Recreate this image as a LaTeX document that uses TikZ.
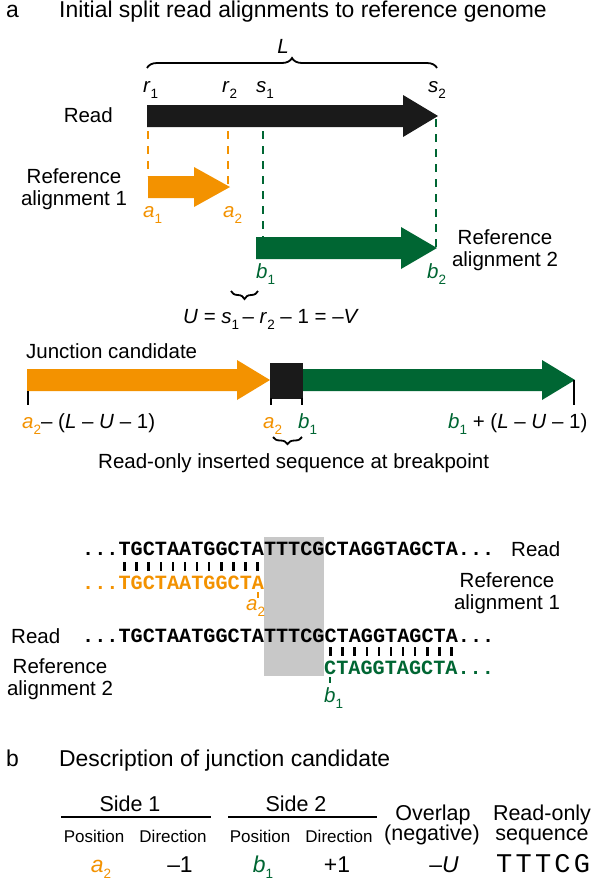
\documentclass[tikz,border=0pt]{standalone}
\usepackage{fontspec}
\setmainfont{Liberation Sans}
\newfontfamily\seqfont{Liberation Mono}
\newfontfamily\seqlight[LetterSpace=12]{Liberation Mono}
\usetikzlibrary{decorations.pathreplacing}
\definecolor{orng}{HTML}{F39200}
\definecolor{grn}{HTML}{006633}
\definecolor{blk}{HTML}{1A1A1A}
\definecolor{boxgray}{HTML}{C8C8C8}
\newcommand\Tfont{\fontsize{22.9}{24}\selectfont}
\newcommand\Lfont{\fontsize{20.5}{22}\selectfont}
\newcommand\Hfont{\fontsize{21.5}{20}\selectfont}
\newcommand\Sfont{\fontsize{17}{19}\selectfont}
\newcommand\Qfont{\seqfont\bfseries\fontsize{20.2}{22}\selectfont}
\newcommand\subsc[1]{\raisebox{-6pt}{\fontsize{13.5}{14}\selectfont #1}}
\newcommand\mvar[2]{\textit{#1}\subsc{#2}}
\tikzset{
  txt/.style={inner sep=0pt, anchor=base west},
  ctxt/.style={inner sep=0pt, anchor=base},
  two/.style={inner sep=0pt, anchor=base, align=center, font=\Lfont},
  dashline/.style={line width=2.2pt, dash pattern=on 8pt off 7pt},
  tickline/.style={line width=2pt},
  mtick/.style={line width=2.4pt},
  brc/.style={line width=1.8pt, decorate, decoration={brace, amplitude=#1}},
  mbrc/.style={line width=1.8pt, decorate, decoration={brace, mirror, amplitude=#1}},
}
\begin{document}
\begin{tikzpicture}[x=1pt,y=-1pt]
\fill[white] (0,0) rectangle (600,889);
\useasboundingbox (0,0) rectangle (600,889);

% ---------- panel a title
\node[txt, font=\Tfont] (pa) at (6,17.5) {a};
\node[txt, font=\Tfont] (titlea) at (59,17.5) {Initial split read alignments to reference genome};

% ---------- L brace
\coordinate (Lleft) at (147,68);
\coordinate (Lright) at (437,68);
\draw[brc=10pt] (Lleft) -- (Lright);
\node[ctxt, font=\Lfont] (Llab) at (283,53) {\textit{L}};

% ---------- position labels
\node[txt, font=\Lfont] (r1) at (143,92) {\mvar{r}{1}};
\node[txt, font=\Lfont] (r2) at (222,92) {\mvar{r}{2}};
\node[txt, font=\Lfont] (s1) at (256,92) {\mvar{s}{1}};
\node[txt, font=\Lfont] (s2) at (428,92) {\mvar{s}{2}};

% ---------- read arrow
\node[txt, anchor=base east, font=\Lfont] (readlab) at (113,122) {Read};
\fill[blk] (147,105) -- (403,105) -- (403,95) -- (438,116) -- (403,137) -- (403,127) -- (147,127) -- cycle;

% ---------- alignment arrows
\fill[orng] (148,176) -- (194,176) -- (194,167) -- (230,187) -- (194,207) -- (194,198) -- (148,198) -- cycle;
\fill[grn] (256,237) -- (401,237) -- (401,227) -- (437,248) -- (401,269) -- (401,259) -- (256,259) -- cycle;

\coordinate (ro1) at (148,131); \coordinate (ao1) at (148,176);
\coordinate (ro2) at (228,131); \coordinate (ao2) at (228,187);
\coordinate (rg1) at (263,131); \coordinate (ag1) at (263,237);
\coordinate (rg2) at (436,119); \coordinate (ag2) at (436,248);
\draw[orng, dashline] (ro1) -- (ao1);
\draw[orng, dashline] (ro2) -- (ao2);
\draw[grn, dashline] (rg1) -- (ag1);
\draw[grn, dashline] (rg2) -- (ag2);

\node[two] (ref1) at (74,205) {Reference\\alignment 1};
\node[txt, font=\Lfont, orng] (a1) at (143,217) {\mvar{a}{1}};
\node[txt, font=\Lfont, orng] (a2) at (223,217) {\mvar{a}{2}};
\node[two] (ref2) at (505,266) {Reference\\alignment 2};
\node[txt, font=\Lfont, grn] (b1) at (256,278) {\mvar{b}{1}};
\node[txt, font=\Lfont, grn] (b2) at (427,278) {\mvar{b}{2}};

% ---------- U brace
\coordinate (Uleft) at (231,291);
\coordinate (Uright) at (258,291);
\draw[mbrc=8pt] (Uleft) -- (Uright);
\node[txt, font=\Lfont] (ueq) at (183,323) {\textit{U} = \mvar{s}{1}\,– \mvar{r}{2} – 1 = –\textit{V}};

% ---------- junction candidate
\node[txt, font=\Lfont] (jlab) at (26,358) {Junction candidate};
\fill[orng] (27,369) -- (237,369) -- (237,360) -- (270,380) -- (237,400) -- (237,391) -- (27,391) -- cycle;
\fill[blk] (270,363) rectangle (303,399);
\fill[grn] (303,369) -- (542,369) -- (542,360) -- (575,380) -- (542,400) -- (542,391) -- (303,391) -- cycle;
\draw[tickline] (28,391) -- (28,405);
\draw[tickline] (271,398) -- (271,405);
\draw[tickline] (302,398) -- (302,405);
\draw[tickline] (574,380) -- (574,405);
\node[txt, font=\Lfont] (jleft) at (22,428) {\textcolor{orng}{\mvar{a}{2}}– (\textit{L} – \textit{U} – 1)};
\node[txt, font=\Lfont, orng] (ja2) at (263,428) {\mvar{a}{2}};
\node[txt, font=\Lfont, grn] (jb1) at (298,428) {\mvar{b}{1}};
\node[txt, font=\Lfont] (jright) at (448,428) {\textcolor{grn}{\mvar{b}{1}} + (\textit{L} – \textit{U} – 1)};
\coordinate (Ileft) at (273,437);
\coordinate (Iright) at (302,437);
\draw[mbrc=7pt] (Ileft) -- (Iright);
\node[txt, font=\Lfont] (inslab) at (98,468) {Read-only inserted sequence at breakpoint};

% ---------- sequences
\fill[boxgray] (264,537) rectangle (324,676);
\node[txt, font=\Qfont] (seq1) at (82,555) {...TGCTAATGGCTATTTCGCTAGGTAGCTA...};
\node[txt, font=\Lfont] (read1) at (511,556) {Read};
\foreach \i in {0,...,11} {
  \draw[mtick] ({118.3+12.12*(\i+0.5)},562) -- ({118.3+12.12*(\i+0.5)},571);
}
\node[txt, font=\Qfont, orng] (seqo) at (82,589) {...TGCTAATGGCTA};
\draw[orng, tickline] (258,592) -- (258,598);
\node[txt, font=\Lfont, orng] (sa2) at (246,610) {\mvar{a}{2}};
\node[two] (sref1) at (507,609) {Reference\\alignment 1};

\node[txt, font=\Lfont] (read2) at (11,643) {Read};
\node[txt, font=\Qfont] (seq2) at (82,642) {...TGCTAATGGCTATTTCGCTAGGTAGCTA...};
\foreach \i in {17,...,27} {
  \draw[mtick] ({118.3+12.12*(\i+0.5)},647) -- ({118.3+12.12*(\i+0.5)},656);
}
\node[txt, font=\Qfont, grn] (seqg) at (324,674) {CTAGGTAGCTA...};
\draw[grn, tickline] (330.4,677) -- (330.4,683);
\node[txt, font=\Lfont, grn] (sb1) at (324,702) {\mvar{b}{1}};
\node[two] (sref2) at (60,695) {Reference\\alignment 2};

% ---------- panel b
\node[txt, font=\Tfont] (pb) at (6,766) {b};
\node[txt, font=\Tfont] (titleb) at (59,766) {Description of junction candidate};
\node[ctxt, font=\Hfont] (side1) at (130,811) {Side 1};
\node[ctxt, font=\Hfont] (side2) at (296,811) {Side 2};
\draw[line width=2.2pt] (61,817) -- (211,817);
\draw[line width=2.2pt] (228,817) -- (377,817);
\node[ctxt, font=\Sfont] (pos1) at (94,842) {Position};
\node[ctxt, font=\Sfont] (dir1) at (173,842) {Direction};
\node[ctxt, font=\Sfont] (pos2) at (260,842) {Position};
\node[ctxt, font=\Sfont] (dir2) at (339,842) {Direction};
\node[ctxt, font=\Hfont] (ovl) at (433,820) {Overlap};
\node[ctxt, font=\Hfont] (neg) at (432,840) {(negative)};
\node[ctxt, font=\Hfont] (ro) at (542,820) {Read-only};
\node[ctxt, font=\Hfont] (rseq) at (542,840) {sequence};
\node[ctxt, font=\Tfont, orng] (va2) at (101,872) {\mvar{a}{2}};
\node[ctxt, font=\Tfont] (vd1) at (180,872) {–1};
\node[ctxt, font=\Tfont, grn] (vb1) at (263,872) {\mvar{b}{1}};
\node[ctxt, font=\Tfont] (vd2) at (337,872) {+1};
\node[ctxt, font=\Tfont] (vu) at (444,872) {–\textit{U}};
\node[txt, font=\seqlight\fontsize{27}{28}\selectfont] (vseq) at (496,872) {TTTCG};
\end{tikzpicture}
\end{document}
